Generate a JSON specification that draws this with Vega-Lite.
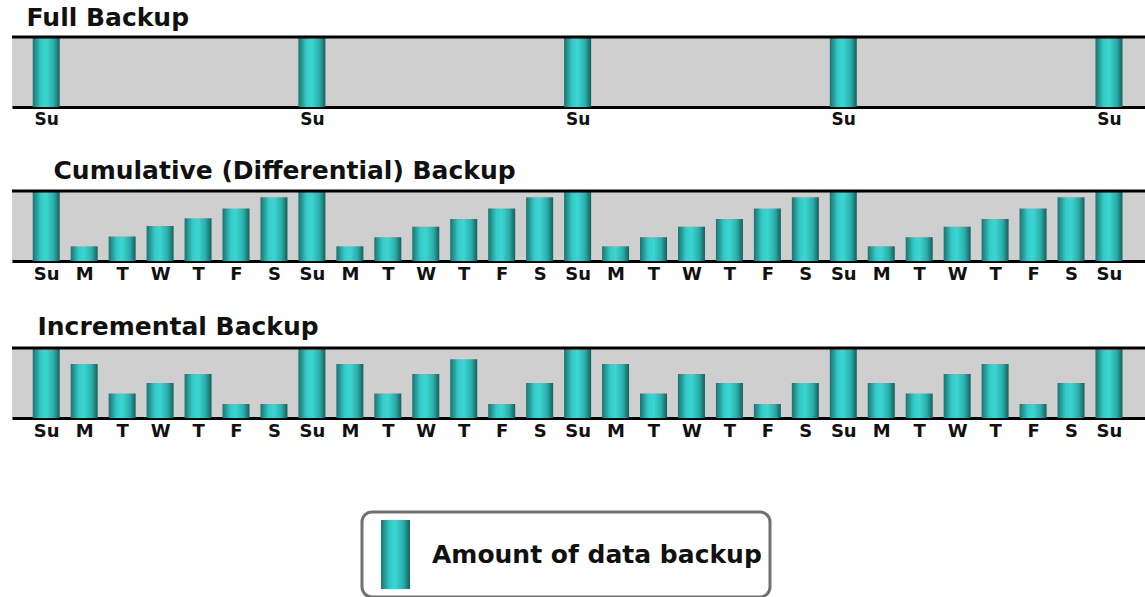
{
  "$schema": "https://vega.github.io/schema/vega-lite/v6.json",
  "background": "white",
  "padding": {"left": 10, "right": 0, "top": 5, "bottom": 0},
  "datasets": {
    "full": [
      {"i": 0, "v": 100, "s": "Amount of data backup"},
      {"i": 7, "v": 100, "s": "Amount of data backup"},
      {"i": 14, "v": 100, "s": "Amount of data backup"},
      {"i": 21, "v": 100, "s": "Amount of data backup"},
      {"i": 28, "v": 100, "s": "Amount of data backup"}
    ],
    "cum": [
      {"i": 0, "v": 100, "s": "Amount of data backup"},
      {"i": 1, "v": 21, "s": "Amount of data backup"},
      {"i": 2, "v": 35, "s": "Amount of data backup"},
      {"i": 3, "v": 50, "s": "Amount of data backup"},
      {"i": 4, "v": 61, "s": "Amount of data backup"},
      {"i": 5, "v": 75, "s": "Amount of data backup"},
      {"i": 6, "v": 91, "s": "Amount of data backup"},
      {"i": 7, "v": 100, "s": "Amount of data backup"},
      {"i": 8, "v": 21, "s": "Amount of data backup"},
      {"i": 9, "v": 34, "s": "Amount of data backup"},
      {"i": 10, "v": 49, "s": "Amount of data backup"},
      {"i": 11, "v": 60, "s": "Amount of data backup"},
      {"i": 12, "v": 75, "s": "Amount of data backup"},
      {"i": 13, "v": 91, "s": "Amount of data backup"},
      {"i": 14, "v": 100, "s": "Amount of data backup"},
      {"i": 15, "v": 21, "s": "Amount of data backup"},
      {"i": 16, "v": 34, "s": "Amount of data backup"},
      {"i": 17, "v": 49, "s": "Amount of data backup"},
      {"i": 18, "v": 60, "s": "Amount of data backup"},
      {"i": 19, "v": 75, "s": "Amount of data backup"},
      {"i": 20, "v": 91, "s": "Amount of data backup"},
      {"i": 21, "v": 100, "s": "Amount of data backup"},
      {"i": 22, "v": 21, "s": "Amount of data backup"},
      {"i": 23, "v": 34, "s": "Amount of data backup"},
      {"i": 24, "v": 49, "s": "Amount of data backup"},
      {"i": 25, "v": 60, "s": "Amount of data backup"},
      {"i": 26, "v": 75, "s": "Amount of data backup"},
      {"i": 27, "v": 91, "s": "Amount of data backup"},
      {"i": 28, "v": 100, "s": "Amount of data backup"}
    ],
    "inc": [
      {"i": 0, "v": 100, "s": "Amount of data backup"},
      {"i": 1, "v": 77, "s": "Amount of data backup"},
      {"i": 2, "v": 35, "s": "Amount of data backup"},
      {"i": 3, "v": 50, "s": "Amount of data backup"},
      {"i": 4, "v": 63, "s": "Amount of data backup"},
      {"i": 5, "v": 20, "s": "Amount of data backup"},
      {"i": 6, "v": 20, "s": "Amount of data backup"},
      {"i": 7, "v": 100, "s": "Amount of data backup"},
      {"i": 8, "v": 77, "s": "Amount of data backup"},
      {"i": 9, "v": 35, "s": "Amount of data backup"},
      {"i": 10, "v": 63, "s": "Amount of data backup"},
      {"i": 11, "v": 84, "s": "Amount of data backup"},
      {"i": 12, "v": 20, "s": "Amount of data backup"},
      {"i": 13, "v": 50, "s": "Amount of data backup"},
      {"i": 14, "v": 100, "s": "Amount of data backup"},
      {"i": 15, "v": 77, "s": "Amount of data backup"},
      {"i": 16, "v": 35, "s": "Amount of data backup"},
      {"i": 17, "v": 63, "s": "Amount of data backup"},
      {"i": 18, "v": 50, "s": "Amount of data backup"},
      {"i": 19, "v": 20, "s": "Amount of data backup"},
      {"i": 20, "v": 50, "s": "Amount of data backup"},
      {"i": 21, "v": 100, "s": "Amount of data backup"},
      {"i": 22, "v": 50, "s": "Amount of data backup"},
      {"i": 23, "v": 35, "s": "Amount of data backup"},
      {"i": 24, "v": 63, "s": "Amount of data backup"},
      {"i": 25, "v": 77, "s": "Amount of data backup"},
      {"i": 26, "v": 20, "s": "Amount of data backup"},
      {"i": 27, "v": 50, "s": "Amount of data backup"},
      {"i": 28, "v": 100, "s": "Amount of data backup"}
    ]
  },
  "config": {
    "view": {"fill": "#cfcfcf", "stroke": null},
    "concat": {"spacing": 31},
    "font": "DejaVu Sans",
    "bar": {"width": 27, "color": {"gradient": "linear", "x1": 0, "y1": 0, "x2": 1, "y2": 0, "stops": [{"offset": 0, "color": "#1a7371"}, {"offset": 0.3, "color": "#34cbc7"}, {"offset": 0.5, "color": "#3bd6d2"}, {"offset": 0.78, "color": "#2aaeaa"}, {"offset": 1, "color": "#165e5c"}]}},
    "title": {"font": "DejaVu Sans", "fontWeight": "bold", "fontSize": 25, "color": "#111111", "anchor": "start", "baseline": "alphabetic"},
    "axisX": {"domainColor": "#000000", "domainWidth": 3, "ticks": false, "tickSize": 0, "grid": false, "labelFont": "DejaVu Sans", "labelFontWeight": "bold", "labelFontSize": 18, "labelColor": "#111111", "labelPadding": 4, "labelAngle": 0, "labelOverlap": false, "labelFlush": false, "title": null, "labelExpr": "['Su','M','T','W','T','F','S'][datum.value % 7]"},
    "legend": {"orient": "none", "legendX": 350, "legendY": 475, "title": null, "fillColor": "white", "strokeColor": "#707070", "strokeWidth": 3, "cornerRadius": 10, "padding": 8, "labelFont": "DejaVu Sans", "labelFontWeight": "bold", "labelFontSize": 25, "labelColor": "#111111", "labelOffset": 2, "symbolOffset": -9, "symbolType": "M-0.42,-1H0.42V1H-0.42Z", "symbolSize": 4761, "symbolFillColor": "#2fc2be", "symbolStrokeColor": "#1a7371", "symbolStrokeWidth": 0, "labelLimit": 0}
  },
  "vconcat": [
    {
      "width": 1135,
      "height": 70,
      "title": {"text": "Full Backup", "dx": 16, "offset": 5},
      "data": {"name": "full"},
      "layer": [
        {
          "mark": {"type": "bar"},
          "encoding": {
            "x": {"field": "i", "type": "quantitative", "scale": {"domain": [-0.77, 28.87], "nice": false, "zero": false}, "axis": {"values": [0, 7, 14, 21, 28], "labelFontSize": 17}},
            "y": {"field": "v", "type": "quantitative", "scale": {"domain": [0, 100]}, "axis": null},
            "opacity": {"field": "s", "type": "nominal", "scale": {"range": [1]}}
          }
        },
        {
          "data": {"values": [{}]},
          "mark": {"type": "rule", "color": "#000000", "strokeWidth": 3},
          "encoding": {"y": {"datum": 100}}
        }
      ]
    },
    {
      "width": 1135,
      "height": 70,
      "title": {"text": "Cumulative (Differential) Backup", "dx": 43, "offset": 6},
      "data": {"name": "cum"},
      "layer": [
        {
          "mark": {"type": "bar"},
          "encoding": {
            "x": {"field": "i", "type": "quantitative", "scale": {"domain": [-0.77, 28.87], "nice": false, "zero": false}, "axis": {"values": [0, 1, 2, 3, 4, 5, 6, 7, 8, 9, 10, 11, 12, 13, 14, 15, 16, 17, 18, 19, 20, 21, 22, 23, 24, 25, 26, 27, 28]}},
            "y": {"field": "v", "type": "quantitative", "scale": {"domain": [0, 100]}, "axis": null},
            "opacity": {"field": "s", "type": "nominal", "scale": {"range": [1]}}
          }
        },
        {
          "data": {"values": [{}]},
          "mark": {"type": "rule", "color": "#000000", "strokeWidth": 3},
          "encoding": {"y": {"datum": 100}}
        }
      ]
    },
    {
      "width": 1135,
      "height": 70,
      "title": {"text": "Incremental Backup", "dx": 27, "offset": 7},
      "data": {"name": "inc"},
      "layer": [
        {
          "mark": {"type": "bar"},
          "encoding": {
            "x": {"field": "i", "type": "quantitative", "scale": {"domain": [-0.77, 28.87], "nice": false, "zero": false}, "axis": {"values": [0, 1, 2, 3, 4, 5, 6, 7, 8, 9, 10, 11, 12, 13, 14, 15, 16, 17, 18, 19, 20, 21, 22, 23, 24, 25, 26, 27, 28]}},
            "y": {"field": "v", "type": "quantitative", "scale": {"domain": [0, 100]}, "axis": null},
            "opacity": {"field": "s", "type": "nominal", "scale": {"range": [1]}}
          }
        },
        {
          "data": {"values": [{}]},
          "mark": {"type": "rule", "color": "#000000", "strokeWidth": 3},
          "encoding": {"y": {"datum": 100}}
        }
      ]
    }
  ]
}
